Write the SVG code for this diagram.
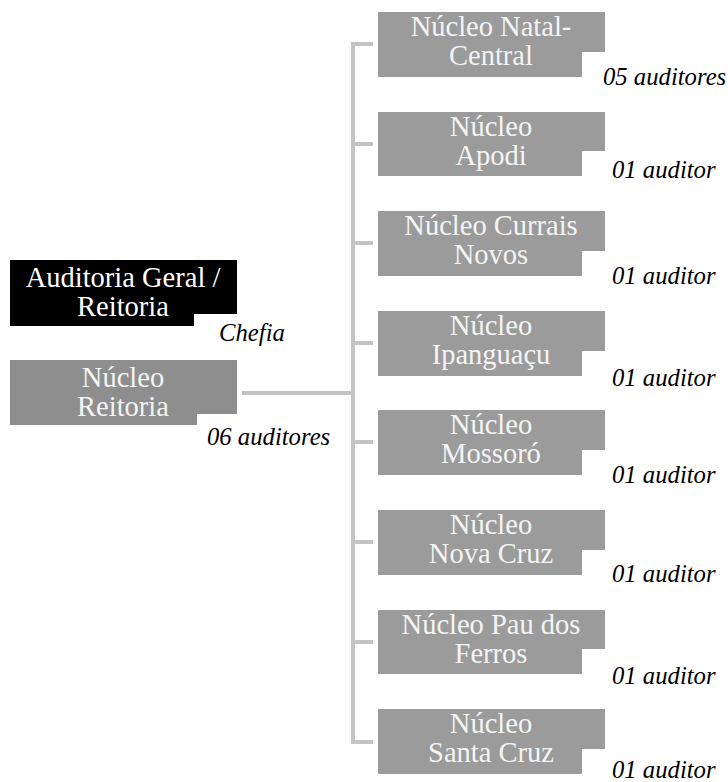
<svg xmlns="http://www.w3.org/2000/svg" width="728" height="782" viewBox="0 0 728 782">
<defs>
<style>
.box{fill:#9b9b9b}
.boxd{fill:#8e8e8e}
.boxk{fill:#000}
text{font-family:'Liberation Serif','Times New Roman',Tinos,'DejaVu Serif',serif}
.t{font-size:28.5px;fill:#f4f4f4;text-anchor:middle}
.tk{fill:#fff}
.l{font-size:24.7px;font-style:italic;fill:#000}
.c{stroke:#c4c4c4;stroke-width:4;fill:none}
</style>
</defs>
<rect width="728" height="782" fill="#fff"/>
<g id="connectors">
<path class="c" d="M242 393H353"/>
<path class="c" d="M373 44H353V742H373"/>
<path class="c" d="M353 144H373M353 243H373M353 343H373M353 442H373M353 542H373M353 642H373"/>
</g>
<g id="auditoria">
<path class="boxk" d="M10 260H237V314H194V326H10Z"/>
<text class="t tk" x="123" y="287">Auditoria Geral /</text>
<text class="t tk" x="123" y="316">Reitoria</text>
<text class="l" x="219" y="341">Chefia</text>
</g>
<g id="reitoria">
<path class="boxd" d="M10 360H237V414H197V425H10Z"/>
<text class="t" x="123" y="387">Núcleo</text>
<text class="t" x="123" y="416">Reitoria</text>
<text class="l" x="207" y="445">06 auditores</text>
</g>
<g id="natal">
<path class="box" d="M378 12H605V52H582V77H378Z"/>
<text class="t" x="491" y="36">Núcleo Natal-</text>
<text class="t" x="491" y="65">Central</text>
<text class="l" x="603" y="85">05 auditores</text>
</g>
<g id="apodi">
<path class="box" d="M378 112H605V151H582V176H378Z"/>
<text class="t" x="491" y="136">Núcleo</text>
<text class="t" x="491" y="165">Apodi</text>
<text class="l" x="612" y="178">01 auditor</text>
</g>
<g id="currais">
<path class="box" d="M378 211H605V251H582V276H378Z"/>
<text class="t" x="491" y="235">Núcleo Currais</text>
<text class="t" x="491" y="264">Novos</text>
<text class="l" x="612" y="284">01 auditor</text>
</g>
<g id="ipanguacu">
<path class="box" d="M378 311H605V351H582V376H378Z"/>
<text class="t" x="491" y="335">Núcleo</text>
<text class="t" x="491" y="364">Ipanguaçu</text>
<text class="l" x="612" y="386">01 auditor</text>
</g>
<g id="mossoro">
<path class="box" d="M378 410H605V450H582V475H378Z"/>
<text class="t" x="491" y="434">Núcleo</text>
<text class="t" x="491" y="463">Mossoró</text>
<text class="l" x="612" y="483">01 auditor</text>
</g>
<g id="novacruz">
<path class="box" d="M378 510H605V550H582V575H378Z"/>
<text class="t" x="491" y="534">Núcleo</text>
<text class="t" x="491" y="563">Nova Cruz</text>
<text class="l" x="612" y="582">01 auditor</text>
</g>
<g id="paudosferros">
<path class="box" d="M378 610H605V649H582V674H378Z"/>
<text class="t" x="491" y="634">Núcleo Pau dos</text>
<text class="t" x="491" y="663">Ferros</text>
<text class="l" x="612" y="684">01 auditor</text>
</g>
<g id="santacruz">
<path class="box" d="M378 709H605V749H582V774H378Z"/>
<text class="t" x="491" y="733">Núcleo</text>
<text class="t" x="491" y="762">Santa Cruz</text>
<text class="l" x="612" y="778">01 auditor</text>
</g>
</svg>
